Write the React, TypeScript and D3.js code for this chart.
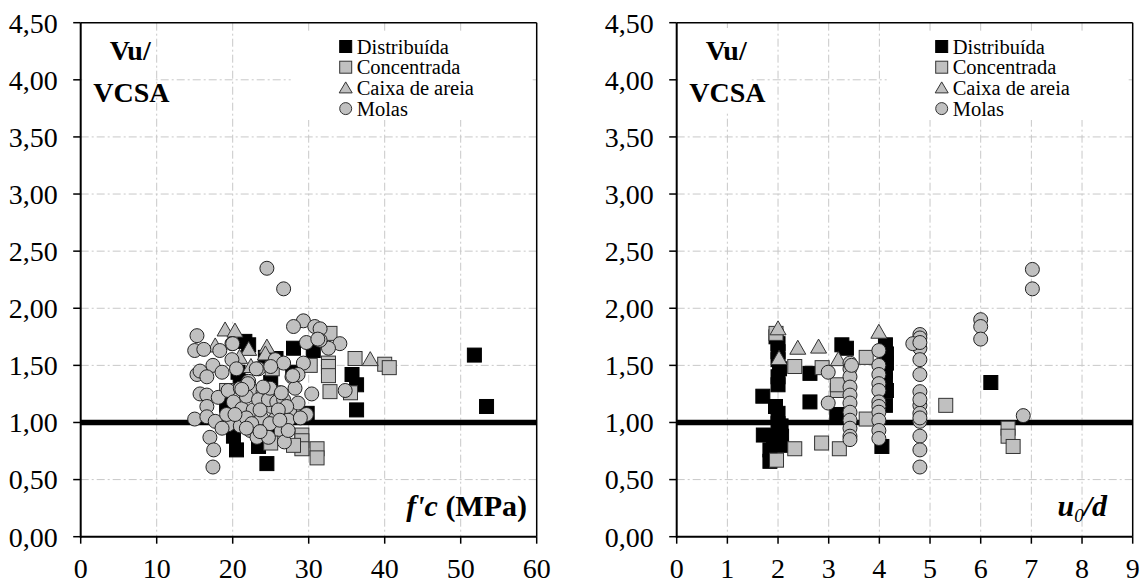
import React from "react";
import * as d3 from "d3";

// ---------- data: left panel (x = f'c in MPa) ----------
const fcDistribuida: [number, number][] = [
  [51.8, 1.59], [53.4, 1.14], [36.3, 1.11], [35.7, 1.42], [36.3, 1.33], [28.0, 1.65], [30.6, 1.63],
  [21.6, 1.71], [22.1, 1.68], [24.3, 1.57], [25.7, 1.56], [27.9, 1.44], [20.7, 1.44], [21.0, 1.36],
  [20.1, 0.88], [20.5, 0.76], [23.4, 0.79], [24.5, 0.64], [29.8, 1.08], [19.2, 1.15], [22.5, 1.0],
  [25.0, 1.35], [23.0, 1.25], [26.0, 0.95],
];
const fcConcentrada: [number, number][] = [
  [40.0, 1.51], [40.6, 1.48], [36.1, 1.56], [35.5, 1.26], [32.8, 1.78], [32.6, 1.52], [32.6, 1.49],
  [32.6, 1.41], [32.8, 1.27], [30.2, 1.50], [29.1, 0.89], [29.1, 0.84], [29.1, 0.77], [31.1, 0.77],
  [31.1, 0.69], [28.0, 0.80], [26.4, 0.94], [25.0, 0.82], [19.2, 1.28], [25.2, 1.47], [22.5, 1.0],
];
const fcCaixa: [number, number][] = [
  [19.0, 1.81], [20.3, 1.80], [22.1, 1.64], [24.5, 1.66], [38.1, 1.55], [17.7, 1.67], [20.9, 1.57],
  [22.4, 1.49], [24.3, 1.60],
];
const fcMolas: [number, number][] = [
  [24.5, 2.35], [26.7, 2.17], [29.3, 1.89], [28.0, 1.84], [30.8, 1.84], [31.5, 1.82], [34.1, 1.69],
  [32.6, 1.65], [29.7, 1.70], [31.5, 1.72], [31.2, 1.73], [15.3, 1.76], [15.0, 1.63], [16.2, 1.64],
  [18.3, 1.63], [19.9, 1.69], [19.9, 1.55], [17.4, 1.50], [15.3, 1.42], [15.7, 1.45], [16.6, 1.40],
  [18.6, 1.44], [25.6, 1.55], [26.7, 1.52], [29.3, 1.52], [23.4, 1.47], [20.5, 1.47], [22.1, 1.36],
  [27.8, 1.40], [28.6, 1.42], [15.7, 1.25], [16.6, 1.24], [18.1, 1.22], [19.4, 1.28], [21.0, 1.30],
  [22.9, 1.27], [24.0, 1.27], [26.2, 1.26], [28.2, 1.30], [30.4, 1.25], [16.6, 1.14], [20.1, 1.18],
  [21.2, 1.12], [22.7, 1.11], [25.1, 1.14], [27.5, 1.11], [28.6, 1.17], [15.0, 1.03], [16.6, 1.05],
  [17.7, 1.01], [19.4, 0.98], [21.0, 0.97], [23.8, 1.04], [25.6, 1.03], [27.3, 1.02], [29.7, 1.07],
  [17.0, 0.87], [17.5, 0.76], [17.4, 0.61], [22.3, 0.93], [23.2, 0.87], [24.7, 0.87], [26.8, 0.83],
  [27.3, 0.93], [34.8, 1.28], [21.8, 1.23], [23.4, 1.20], [24.7, 1.20], [25.8, 1.18], [26.7, 1.20],
  [27.1, 1.14], [23.6, 1.11], [26.0, 1.11], [21.8, 1.04], [22.5, 0.99], [24.9, 0.99], [26.2, 1.02],
  [28.9, 1.04], [19.2, 1.07], [20.3, 1.07], [18.6, 0.95], [21.8, 0.95], [23.6, 0.92], [20.0, 1.69],
  [24.9, 1.30], [22.0, 1.34], [25.0, 1.49], [23.1, 1.47], [27.9, 1.41], [24.0, 1.31], [21.2, 1.29],
  [26.4, 1.26],
];

// ---------- data: right panel (x = u0/d) ----------
const udDistribuida: [number, number][] = [
  [1.70, 1.23], [1.96, 1.75], [2.0, 1.69], [2.0, 1.62], [2.0, 1.55], [2.03, 1.47], [2.0, 1.40],
  [2.0, 1.33], [1.95, 1.14], [2.0, 1.08], [2.0, 0.99], [2.06, 0.97], [1.71, 0.89], [1.91, 0.88],
  [2.07, 0.88], [1.84, 0.76], [1.84, 0.66], [2.05, 0.80], [2.63, 1.43], [2.63, 1.18], [3.26, 1.68],
  [3.35, 1.65], [3.16, 1.07], [4.12, 1.68], [4.14, 1.60], [4.14, 1.52], [4.12, 1.45], [4.12, 1.37],
  [4.14, 1.28], [4.12, 1.15], [4.05, 0.79], [6.2, 1.35],
];
const udConcentrada: [number, number][] = [
  [1.96, 1.78], [2.33, 1.49], [2.33, 0.77], [1.97, 0.67], [2.86, 0.82], [3.21, 0.77], [2.87, 1.48],
  [3.74, 1.57], [3.74, 1.03], [3.17, 1.28], [3.17, 1.33], [5.31, 1.15], [6.54, 0.95], [6.54, 0.88],
  [6.64, 0.79],
];
const udCaixa: [number, number][] = [
  [2.0, 1.82], [2.02, 1.56], [2.39, 1.65], [2.8, 1.66], [3.19, 1.55], [3.99, 1.79],
];
const udMolas: [number, number][] = [
  [2.99, 1.44], [2.99, 1.17], [3.42, 1.52], [3.42, 1.47], [3.42, 1.40], [3.42, 1.31], [3.42, 1.24],
  [3.42, 1.17], [3.42, 1.09], [3.42, 1.02], [3.42, 0.95], [3.42, 0.88], [3.42, 0.85], [3.45, 1.50],
  [3.99, 1.63], [3.99, 1.50], [3.99, 1.42], [3.99, 1.34], [3.99, 1.28], [3.99, 1.18], [3.99, 1.14],
  [3.99, 1.09], [3.99, 1.02], [3.99, 0.93], [3.99, 0.86], [4.8, 1.77], [4.8, 1.74], [4.8, 1.65],
  [4.8, 1.55], [4.8, 1.42], [4.8, 1.27], [4.8, 1.15], [4.8, 1.08], [4.8, 1.01], [4.8, 0.88],
  [4.8, 0.76], [4.8, 0.61], [4.66, 1.69], [4.8, 1.70], [4.8, 1.20], [4.8, 1.04], [6.0, 1.90],
  [6.0, 1.84], [6.0, 1.73], [6.84, 1.06], [7.02, 2.34], [7.02, 2.17],
];

const yTicks = [0, 0.5, 1, 1.5, 2, 2.5, 3, 3.5, 4, 4.5];
const fcTicks = [0, 10, 20, 30, 40, 50, 60];
const udTicks = [0, 1, 2, 3, 4, 5, 6, 7, 8, 9];
const legendLabels = ["Distribuída", "Concentrada", "Caixa de areia", "Molas"];

const FONT = '"Liberation Serif", "Times New Roman", "DejaVu Serif", serif';
const GRAY = "#c0c0c0";
const GRID = "#c8c8c8";

const fmt = (v: number) => v.toFixed(2).replace(".", ",");

type Pt = [number, number];

function Marker({ kind, x, y }: { kind: number; x: number; y: number }) {
  const s = 7;
  if (kind === 0)
    return <rect x={x - s} y={y - s} width={2 * s} height={2 * s} fill="#000" stroke="#000" strokeWidth={1} />;
  if (kind === 1)
    return <rect x={x - s} y={y - s} width={2 * s} height={2 * s} fill={GRAY} stroke="#333" strokeWidth={1} />;
  if (kind === 2)
    return (
      <path
        d={`M${x},${y - 8}L${x + 8},${y + 6}L${x - 8},${y + 6}Z`}
        fill={GRAY}
        stroke="#333"
        strokeWidth={1}
      />
    );
  return <circle cx={x} cy={y} r={7} fill={GRAY} stroke="#222" strokeWidth={1} />;
}

function LegendMarker({ kind, x, y }: { kind: number; x: number; y: number }) {
  const s = 6;
  if (kind === 0) return <rect x={x - s} y={y - s} width={2 * s} height={2 * s} fill="#000" stroke="#000" />;
  if (kind === 1) return <rect x={x - s} y={y - s} width={2 * s} height={2 * s} fill={GRAY} stroke="#333" />;
  if (kind === 2)
    return <path d={`M${x},${y - 6}L${x + 6.5},${y + 5}L${x - 6.5},${y + 5}Z`} fill={GRAY} stroke="#333" />;
  return <circle cx={x} cy={y} r={6} fill={GRAY} stroke="#333" />;
}

const textStyle = (size: number, bold = false, italic = false): React.CSSProperties => ({
  fontFamily: FONT,
  fontSize: size,
  fontWeight: bold ? 700 : 400,
  fontStyle: italic ? "italic" : "normal",
});

function Panel({
  left,
  xMax,
  xTicks,
  series,
  xTitle,
}: {
  left: number;
  xMax: number;
  xTicks: number[];
  series: Pt[][];
  xTitle: React.ReactNode;
}) {
  const top = 22.7;
  const bottom = 536.7;
  const right = left + 456;
  const x = d3.scaleLinear().domain([0, xMax]).range([left, right]);
  const y = d3.scaleLinear().domain([0, 4.5]).range([bottom, top]);
  return (
    <g>
      {xTicks.slice(1, -1).map((t) => (
        <line key={"gx" + t} x1={x(t)} x2={x(t)} y1={top} y2={bottom} stroke={GRID} strokeWidth={1} strokeDasharray="8 3 2 3" />
      ))}
      {yTicks.slice(1, -1).map((t) => (
        <line key={"gy" + t} x1={left} x2={right} y1={y(t)} y2={y(t)} stroke={GRID} strokeWidth={1} strokeDasharray="8 3 2 3" />
      ))}
      <rect x={left + 1.5} y={28} width={73} height={84} fill="#fff" />
      <rect x={left + 210} y={33} width={242} height={87} fill="#fff" />
      <line x1={x(0)} x2={x(xMax)} y1={y(1)} y2={y(1)} stroke="#000" strokeWidth={5.5} />
      {series.map((pts, k) => (
        <g key={"s" + k}>
          {pts.map((p, i) => (
            <Marker key={i} kind={k} x={x(p[0])} y={y(p[1])} />
          ))}
        </g>
      ))}
      <line x1={left} x2={right} y1={top} y2={top} stroke="#000" strokeWidth={1.5} />
      <line x1={right} x2={right} y1={top} y2={bottom} stroke="#000" strokeWidth={1.5} />
      <line x1={left} x2={left} y1={top} y2={bottom + 1} stroke="#000" strokeWidth={2} />
      <line x1={left} x2={right} y1={bottom} y2={bottom} stroke="#000" strokeWidth={2} />
      {yTicks.map((t) => (
        <g key={"yt" + t}>
          <line x1={left - 7.5} x2={left} y1={y(t)} y2={y(t)} stroke="#000" strokeWidth={1.5} />
          <text x={left - 23} y={y(t)} dy="0.35em" textAnchor="end" style={textStyle(28)} fill="#000">
            {fmt(t)}
          </text>
        </g>
      ))}
      {xTicks.map((t) => (
        <g key={"xt" + t}>
          <line x1={x(t)} x2={x(t)} y1={bottom} y2={bottom + 7} stroke="#000" strokeWidth={1.5} />
          <text x={x(t)} y={578} textAnchor="middle" style={textStyle(28)} fill="#000">
            {t}
          </text>
        </g>
      ))}
      <text x={left + 29} y={60} style={textStyle(28, true)}>
        Vu/
      </text>
      <text x={left + 12.5} y={102} style={textStyle(28, true)}>
        VCSA
      </text>
      {legendLabels.map((lab, i) => (
        <g key={lab}>
          <LegendMarker kind={i} x={left + 265} y={46.5 + i * 20.7} />
          <text x={left + 276} y={53.5 + i * 20.7} style={textStyle(20.5)} fill="#000">
            {lab}
          </text>
        </g>
      ))}
      {xTitle}
    </g>
  );
}

export default function App() {
  return (
    <svg
      width={1147}
      height={584}
      style={{ position: "absolute", left: 0, top: 0, background: "#fff" }}
      xmlns="http://www.w3.org/2000/svg"
    >
      <rect x={0} y={0} width={1147} height={584} fill="#fff" />
      <Panel
        left={80.7}
        xMax={60}
        xTicks={fcTicks}
        series={[fcDistribuida, fcConcentrada, fcCaixa, fcMolas]}
        xTitle={
          <text x={527} y={516} textAnchor="end" style={textStyle(30, true)}>
            <tspan style={{ fontStyle: "italic" }}>f'c</tspan>
            <tspan> (MPa)</tspan>
          </text>
        }
      />
      <Panel
        left={676.7}
        xMax={9}
        xTicks={udTicks}
        series={[udDistribuida, udConcentrada, udCaixa, udMolas]}
        xTitle={
          <text x={1107} y={516} textAnchor="end" style={textStyle(30, true, true)}>
            <tspan>u</tspan>
            <tspan style={{ fontSize: 19, fontWeight: 400 }} dy={6}>0</tspan>
            <tspan dy={-6}>/d</tspan>
          </text>
        }
      />
    </svg>
  );
}
